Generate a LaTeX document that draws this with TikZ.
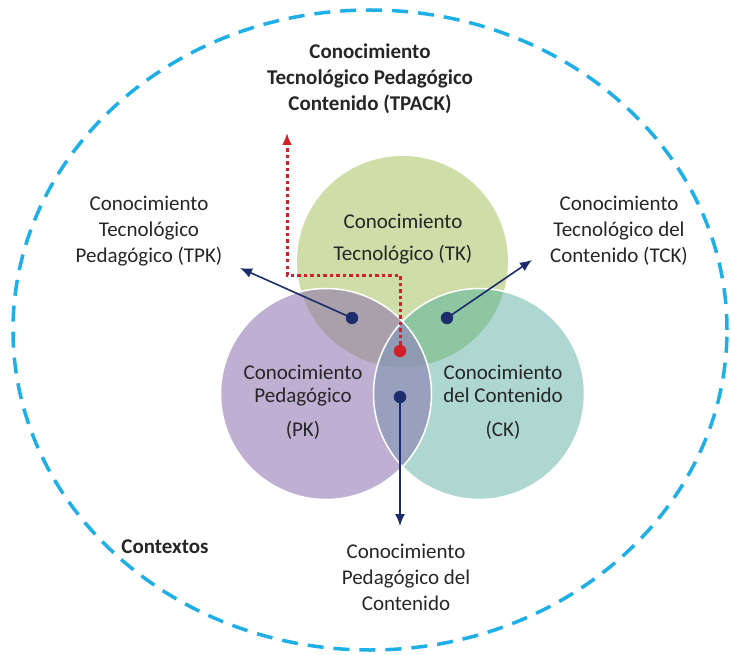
\documentclass[tikz,border=0pt]{standalone}
\usepackage{fontspec}
\setmainfont{Carlito}
\usetikzlibrary{arrows.meta}
\tikzset{>={Latex[width=10pt,length=12pt]}}

\definecolor{tkcol}{HTML}{CFDDA9}
\definecolor{pkcol}{HTML}{BFAFD3}
\definecolor{ckcol}{HTML}{AED7D2}
\definecolor{tpkcol}{HTML}{A9A0AA}
\definecolor{tckcol}{HTML}{8FC6A2}
\definecolor{pckcol}{HTML}{99A0BE}
\definecolor{tpackcol}{HTML}{8E9BB2}
\definecolor{navy}{HTML}{1C2C6C}
\definecolor{tpackred}{HTML}{D0202A}
\definecolor{ctxblue}{HTML}{1EAEE8}

\begin{document}
\begin{tikzpicture}[x=1pt,y=-1pt,
    lbl/.style={align=center, inner sep=0pt, text=black!85,
      font=\fontsize{21}{26}\selectfont},
    boldlbl/.style={lbl, font=\fontsize{21}{26}\selectfont\bfseries}]

  \def\r{105.5pt}

  \useasboundingbox (0,0) rectangle (731,655);

  \coordinate (Otk) at (402.5,261.5);
  \coordinate (Opk) at (326,394);
  \coordinate (Ock) at (479,394);

  \coordinate (tpkdot) at (352,318);
  \coordinate (tckdot) at (447,318);
  \coordinate (pckdot) at (400,397);
  \coordinate (tpackdot) at (400,351);
  \coordinate (tpkend) at (240,268);
  \coordinate (tckend) at (532,260);
  \coordinate (pckend) at (400,526);
  \coordinate (tpackend) at (287,133);

  \draw[ctxblue, line width=3.5pt, dash pattern=on 16pt off 10pt]
    (370,330) ellipse (357pt and 320pt);

  \fill[tkcol] (Otk) circle (\r);
  \fill[pkcol] (Opk) circle (\r);
  \fill[ckcol] (Ock) circle (\r);
  \begin{scope}
    \clip (Otk) circle (\r);
    \fill[tpkcol] (Opk) circle (\r);
    \fill[tckcol] (Ock) circle (\r);
  \end{scope}
  \begin{scope}
    \clip (Opk) circle (\r);
    \fill[pckcol] (Ock) circle (\r);
  \end{scope}
  \begin{scope}
    \clip (Otk) circle (\r);
    \clip (Opk) circle (\r);
    \fill[tpackcol] (Ock) circle (\r);
  \end{scope}
  \draw[white, line width=1.5pt] (Opk) circle (\r);
  \draw[white, line width=1.5pt] (Ock) circle (\r);

  \node[lbl] (tk) at (403,239) {Conocimiento\\[6pt]Tecnológico (TK)};
  \node[lbl, font=\fontsize{21}{23}\selectfont] (pk) at (303,402)
    {Conocimiento\\Pedagógico\\[11pt](PK)};
  \node[lbl, font=\fontsize{21}{23}\selectfont] (ck) at (503,402)
    {Conocimiento\\del Contenido\\[11pt](CK)};

  \node[lbl] (tpk) at (149,231) {Conocimiento\\Tecnológico\\Pedagógico (TPK)};
  \node[lbl] (tck) at (619,231) {Conocimiento\\Tecnológico del\\Contenido (TCK)};
  \node[lbl] (pck) at (406,577) {Conocimiento\\Pedagógico del\\Contenido};
  \node[boldlbl] (tpack) at (370,79)
    {Conocimiento\\Tecnológico Pedagógico\\Contenido (TPACK)};
  \node[boldlbl] (contextos) at (165,547) {Contextos};

  \draw[navy, line width=1.6pt, ->] (tpkdot) -- (tpkend);
  \draw[navy, line width=1.6pt, ->] (tckdot) -- (tckend);
  \draw[navy, line width=1.6pt, ->] (pckdot) -- (pckend);
  \draw[tpackred, line width=3pt, dash pattern=on 3.5pt off 3pt, ->]
    (tpackdot) |- (287,275) -- (tpackend);

  \filldraw[fill=navy, draw=navy] (tpkdot) circle (6pt);
  \filldraw[fill=navy, draw=navy] (tckdot) circle (6pt);
  \filldraw[fill=navy, draw=navy] (pckdot) circle (6pt);
  \filldraw[fill=tpackred, draw=tpackred] (tpackdot) circle (6pt);

\end{tikzpicture}
\end{document}
